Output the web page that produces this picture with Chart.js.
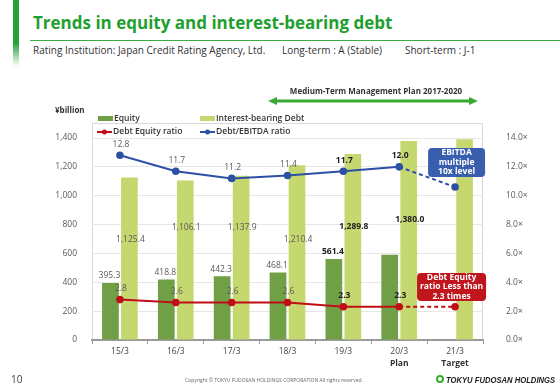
<!DOCTYPE html>
<html>
<head>
<meta charset="utf-8">
<script src="https://cdn.jsdelivr.net/npm/chart.js@4"></script>
<style>
body{margin:0;width:560px;height:388px;position:relative;background:#fff;font-family:"Open Sans",sans-serif;overflow:hidden}
.sidebar{position:absolute;left:13px;top:0;width:6px;height:66px;background:linear-gradient(#23a336 65%,#fff)}
h1{position:absolute;left:33px;top:11px;margin:0;font:bold 17px "Open Sans",sans-serif;color:#1f9f30;white-space:nowrap}
.rule{position:absolute;left:30px;right:0;top:40px;height:1px;background:#3aaa45}
.sub{position:absolute;top:43px;font-size:10px;color:#333;white-space:nowrap}
#wrap{position:absolute;left:0;top:80px;width:560px;height:296px}
.pg{position:absolute;left:11px;top:372px;font-size:10px;color:#444}
.copy{position:absolute;left:185px;top:377px;font-size:5px;color:#666;white-space:nowrap}
.logo{position:absolute;left:436px;top:375px;font:italic bold 9px "Liberation Sans",sans-serif;color:#222;white-space:nowrap}
.logo i{display:inline-block;width:4px;height:4px;border:2px solid #3aaa35;border-radius:50%;margin-right:2px;vertical-align:0}
.logo span{display:inline-block;transform:scaleX(0.85);transform-origin:0 50%}
</style>
</head>
<body>
<div class="sidebar"></div>
<h1>Trends in equity and interest-bearing debt</h1>
<div class="rule"></div>
<div class="sub" style="left:33px">Rating Institution: Japan Credit Rating Agency, Ltd.</div>
<div class="sub" style="left:282px">Long-term : A (Stable)</div>
<div class="sub" style="left:405px">Short-term : J-1</div>
<div id="wrap"><canvas id="debtChart"></canvas></div>
<div class="pg">10</div>
<div class="copy">Copyright © TOKYU FUDOSAN HOLDINGS CORPORATION All rights reserved.</div>
<div class="logo"><i></i><span>TOKYU FUDOSAN HOLDINGS</span></div>

<script>
// Data (¥billion and times)
const periods = ['15/3', '16/3', '17/3', '18/3', '19/3', '20/3', '21/3'];
const periodNotes = ['', '', '', '', '', 'Plan', 'Target'];
const equity = [395.3, 418.8, 442.3, 468.1, 561.4, 590, null];
const interestDebt = [1125.4, 1106.1, 1137.9, 1210.4, 1289.8, 1380.0, 1392];
const debtEquityRatio = [2.8, 2.6, 2.6, 2.6, 2.3, 2.3, 2.3];
const debtEbitdaRatio = [12.8, 11.7, 11.2, 11.4, 11.7, 12.0, 10.6];
const leftTicks = [0, 200, 400, 600, 800, 1000, 1200, 1400];
const rightTicks = [0, 2, 4, 6, 8, 10, 12, 14];

const GREEN = '#70a046';
const LIGHT = '#c5d870';
const RED = '#c00d16';
const BLUE = '#2d50a6';
const FONT = '"Open Sans", sans-serif';

// dashed segment into the target year
const dashLast = ctx => ctx.p1DataIndex === periods.length - 1 ? [4, 3] : undefined;

function roundBox(ctx, x, y, w, h, r, fill) {
    ctx.beginPath();
    ctx.roundRect(x, y, w, h, r);
    ctx.fillStyle = fill;
    ctx.fill();
}

// Draw box, legend, arrow, labels and callouts
const decor = {
    id: 'decor',
    beforeDraw(chart) {
        const {ctx, chartArea: a} = chart;
        ctx.save();
        ctx.strokeStyle = '#d9d9d9';
        ctx.lineWidth = 1;
        ctx.strokeRect(a.left + 0.5, a.top - 14.5, a.right - a.left - 1, a.bottom - a.top + 14);

        // plan arrow
        ctx.strokeStyle = '#3aaa35';
        ctx.fillStyle = '#3aaa35';
        ctx.lineWidth = 3;
        const ay = a.top - 37;
        ctx.beginPath(); ctx.moveTo(276, ay); ctx.lineTo(471, ay); ctx.stroke();
        ctx.beginPath(); ctx.moveTo(268, ay); ctx.lineTo(277, ay - 4); ctx.lineTo(277, ay + 4); ctx.fill();
        ctx.beginPath(); ctx.moveTo(478, ay); ctx.lineTo(469, ay - 4); ctx.lineTo(469, ay + 4); ctx.fill();
        ctx.fillStyle = '#333';
        ctx.font = 'bold 8px ' + FONT;
        ctx.textAlign = 'center';
        ctx.textBaseline = 'middle';
        ctx.fillText('Medium-Term Management Plan 2017-2020', 376, a.top - 46);
        ctx.textAlign = 'left';
        ctx.fillText('¥billion', 55, a.top - 27);

        // legend
        ctx.font = '600 8.5px ' + FONT;
        ctx.fillStyle = GREEN;
        ctx.fillRect(98, a.top - 22, 15, 5);
        ctx.fillStyle = LIGHT;
        ctx.fillRect(200, a.top - 22, 15, 5);
        ctx.fillStyle = '#333';
        ctx.fillText('Equity', 114, a.top - 19.5);
        ctx.fillText('Interest-bearing Debt', 216, a.top - 19.5);
        [[97, RED, 'Debt Equity ratio'], [200, BLUE, 'Debt/EBITDA ratio']].forEach(([x, c, t]) => {
            ctx.strokeStyle = c; ctx.fillStyle = c; ctx.lineWidth = 2;
            ctx.beginPath(); ctx.moveTo(x, a.top - 6); ctx.lineTo(x + 15, a.top - 6); ctx.stroke();
            ctx.beginPath(); ctx.arc(x + 7.5, a.top - 6, 2.5, 0, Math.PI * 2); ctx.fill();
            ctx.fillStyle = '#333';
            ctx.fillText(t, x + 16, a.top - 6);
        });
        ctx.restore();
    },
    afterDatasetsDraw(chart, args, opts) {
        const {ctx, scales} = chart;
        const y = scales.y;
        ctx.save();
        ctx.textAlign = 'center';
        ctx.textBaseline = 'middle';
        const setFont = i => {
            ctx.font = (i >= 4 ? 'bold ' : '') + '8.5px ' + FONT;
            ctx.fillStyle = i >= 4 ? '#222' : '#595959';
        };
        chart.getDatasetMeta(0).data.forEach((bar, i) => {
            if (equity[i] == null || i >= 5) return;
            setFont(i);
            ctx.fillText(equity[i].toFixed(1), bar.x - 1, bar.y - 7);
        });
        chart.getDatasetMeta(1).data.forEach((bar, i) => {
            if (i >= 6) return;
            setFont(i);
            ctx.fillText(interestDebt[i].toLocaleString('en-US', {minimumFractionDigits: 1}), bar.x + 1, y.getPixelForValue(opts.debtLabelAt[i]));
        });
        [2, 3].forEach(d => {
            const vals = chart.data.datasets[d].data;
            chart.getDatasetMeta(d).data.forEach((pt, i) => {
                if (i >= 6) return;
                setFont(i);
                ctx.fillText(vals[i].toFixed(1), pt.x + 1, pt.y - 11);
            });
        });

        // callouts
        const cx = scales.x.getPixelForValue(6);
        const lines = (arr, x, y0) => arr.forEach((t, k) => ctx.fillText(t, x, y0 + k * 9.5));
        ctx.font = 'bold 8.5px ' + FONT;
        let by = y.getPixelForValue(1230);
        roundBox(ctx, cx - 27, by - 14.5, 57, 29, 4, '#3a5eae');
        ctx.fillStyle = '#fff';
        lines(['EBITDA', 'multiple', '10x level'], cx + 1.5, by - 9.5);
        by = y.getPixelForValue(367);
        roundBox(ctx, cx - 38, by - 14, 69, 28, 4, '#c0151d');
        ctx.fillStyle = '#fff';
        lines(['Debt Equity', 'ratio Less than', '2.3 times'], cx - 3.5, by - 9.5);

        // second line of period labels
        ctx.font = 'bold 8.5px ' + FONT;
        ctx.fillStyle = '#333';
        periodNotes.forEach((t, i) => {
            if (t) ctx.fillText(t, scales.x.getPixelForValue(i), chart.chartArea.bottom + 24);
        });
        ctx.restore();
    }
};

const data = {
    labels: periods,
    datasets: [
        {type: 'bar', label: 'Equity', data: equity, backgroundColor: GREEN, yAxisID: 'y', order: 2},
        {type: 'bar', label: 'Interest-bearing Debt', data: interestDebt, backgroundColor: LIGHT, yAxisID: 'y', order: 2},
        {type: 'line', label: 'Debt Equity ratio', data: debtEquityRatio, borderColor: RED, backgroundColor: RED,
            borderWidth: 2, pointRadius: 2.8, yAxisID: 'y1', order: 0, segment: {borderDash: dashLast}},
        {type: 'line', label: 'Debt/EBITDA ratio', data: debtEbitdaRatio, borderColor: BLUE, backgroundColor: BLUE,
            borderWidth: 2, pointRadius: 2.8, yAxisID: 'y1', order: 0, segment: {borderDash: dashLast}}
    ]
};

const config = {
    type: 'bar',
    data: data,
    options: {
        responsive: true,
        maintainAspectRatio: false,
        animation: false,
        categoryPercentage: 0.68,
        barPercentage: 0.88,
        layout: {padding: {top: 58, left: 0, right: 0, bottom: 0}},
        plugins: {
            legend: {display: false},
            tooltip: {enabled: false},
            decor: {debtLabelAt: [693, 776, 776, 693, 783, 838]}
        },
        scales: {
            x: {
                grid: {drawOnChartArea: false, drawTicks: true, tickLength: 4, color: '#999'},
                border: {color: '#999', width: 2},
                ticks: {color: '#444', font: {family: FONT, size: 8.5}, padding: 2},
                afterFit: s => { s.height = 36; }
            },
            y: {
                min: 0, max: 1400,
                afterBuildTicks: s => { s.ticks = leftTicks.map(v => ({value: v})); },
                grid: {color: '#e6e6e6', drawTicks: false},
                border: {display: false},
                ticks: {color: '#595959', font: {family: FONT, size: 8.5}, padding: 15,
                    callback: v => v.toLocaleString('en-US')},
                afterFit: s => { s.width = 92; }
            },
            y1: {
                position: 'right',
                min: 0, max: 14,
                afterBuildTicks: s => { s.ticks = rightTicks.map(v => ({value: v})); },
                grid: {display: false},
                border: {display: false},
                ticks: {color: '#595959', font: {family: FONT, size: 8.5}, padding: 15,
                    callback: v => v.toFixed(1) + '×'},
                afterFit: s => { s.width = 77; }
            }
        }
    },
    plugins: [decor]
};

new Chart(document.getElementById('debtChart'), config);
</script>
</body>
</html>
